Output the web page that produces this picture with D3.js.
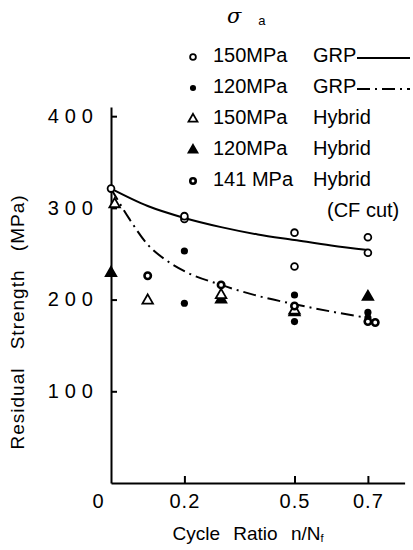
<!DOCTYPE html>
<html>
<head>
<meta charset="utf-8">
<script src="https://cdn.jsdelivr.net/npm/d3@7"></script>
<style>
  body { margin: 0; background: #fff; }
  text { font-family: "Liberation Sans", Arial, sans-serif; fill: #000; }
</style>
</head>
<body>
<svg id="chart"></svg>
<script>
// values (x = cycle ratio n/Nf, y = residual strength MPa)
const grp150 = [[0, 321], [0.2, 288], [0.2, 291], [0.5, 273], [0.5, 236], [0.7, 268], [0.7, 251]]
const grp120 = [[0.2, 253], [0.2, 196], [0.5, 205], [0.5, 176], [0.7, 186], [0.7, 180]]
const hybrid150 = [[0.01, 304], [0.1, 199], [0.3, 205], [0.5, 188]]
const hybrid120 = [[0, 229], [0.3, 200], [0.5, 186], [0.7, 203]]
const hybrid141 = [[0.1, 226], [0.3, 216], [0.5, 193], [0.7, 176], [0.72, 175]]

const curveGrp150 = [[0, 321], [0.1, 302], [0.2, 289], [0.3, 279], [0.4, 271], [0.5, 265], [0.6, 259], [0.7, 254]]
const curveGrp120 = [[0, 321], [0.05, 288], [0.1, 260], [0.15, 243], [0.2, 231], [0.3, 216], [0.4, 204], [0.5, 195], [0.6, 187], [0.7, 180]]

const xTicks = [0, 0.2, 0.5, 0.7]
const yTicks = [100, 200, 300, 400]

const legendRows = [
    {label: "150MPa", kind: "GRP", mark: "open", line: "solid"},
    {label: "120MPa", kind: "GRP", mark: "dot", line: "dashdot"},
    {label: "150MPa", kind: "Hybrid", mark: "tri", line: null},
    {label: "120MPa", kind: "Hybrid", mark: "trifill", line: null},
    {label: "141 MPa", kind: "Hybrid", mark: "ring", line: null}
]

const width = 413, height = 550
const svg = d3.select("#chart").attr("width", width).attr("height", height)

const x = d3.scaleLinear().domain([0, 0.8]).range([111, 404.6])
const y = d3.scaleLinear().domain([0, 410]).range([483, 107])

// axes
const xAxis = d3.axisBottom(x).tickValues(xTicks).tickSizeInner(-7).tickSizeOuter(0).tickPadding(11)
    .tickFormat(d => d === 0 ? "0" : d3.format(".1f")(d))
const yAxis = d3.axisLeft(y).tickValues(yTicks).tickSizeInner(-6).tickSizeOuter(0).tickPadding(12)

const gx = svg.append("g").attr("transform", "translate(0,483)").call(xAxis)
const gy = svg.append("g").attr("transform", "translate(111,0)").call(yAxis)

gx.selectAll("path, line").attr("stroke", "#000").attr("stroke-width", 2)
gy.selectAll("path, line").attr("stroke", "#000").attr("stroke-width", 2)
gx.selectAll("text").attr("font-size", 20).attr("letter-spacing", 1)
    .attr("font-family", "Liberation Sans, Arial, sans-serif")
gx.selectAll(".tick").filter(d => d === 0).select("text").attr("dx", -13)
gx.selectAll(".tick").filter(d => d === 0).select("line").remove()
gy.selectAll("text").attr("font-size", 20).attr("letter-spacing", 6)
    .attr("font-family", "Liberation Sans, Arial, sans-serif")

// axis titles
const xt = svg.append("text").attr("x", 248).attr("y", 540).attr("text-anchor", "middle")
    .attr("font-size", 19).attr("word-spacing", 8)
xt.append("tspan").text("Cycle Ratio n/N")
xt.append("tspan").text("f").attr("font-size", 11).attr("dy", 2)

svg.append("text").attr("transform", "translate(24,322) rotate(-90)")
    .attr("text-anchor", "middle").attr("font-size", 19)
    .attr("word-spacing", 12).attr("letter-spacing", 1)
    .text("Residual Strength (MPa)")

// fitted curves
const line = d3.line().x(d => x(d[0])).y(d => y(d[1])).curve(d3.curveMonotoneX)
svg.append("path").attr("d", line(curveGrp150)).attr("fill", "none")
    .attr("stroke", "#000").attr("stroke-width", 2)
svg.append("path").attr("d", line(curveGrp120)).attr("fill", "none")
    .attr("stroke", "#000").attr("stroke-width", 2).attr("stroke-dasharray", "13,5,2,5")

// marker drawing
function drawMark(g, kind, cx, cy, s) {
    if (kind === "open") {
        g.append("circle").attr("cx", cx).attr("cy", cy).attr("r", 3.4 * s)
            .attr("fill", "#fff").attr("stroke", "#000").attr("stroke-width", 1.8)
    } else if (kind === "dot") {
        g.append("circle").attr("cx", cx).attr("cy", cy).attr("r", 3.6 * s).attr("fill", "#000")
    } else if (kind === "ring") {
        g.append("circle").attr("cx", cx).attr("cy", cy).attr("r", 3.2 * s)
            .attr("fill", "#fff").attr("stroke", "#000").attr("stroke-width", 2.6)
    } else {
        g.append("path").attr("d", d3.symbol(d3.symbolTriangle, 48 * s * s)())
            .attr("transform", `translate(${cx},${cy})`)
            .attr("fill", kind === "trifill" ? "#000" : "#fff")
            .attr("stroke", "#000").attr("stroke-width", 1.8)
    }
}

const marks = svg.append("g")
const series = [[grp120, "dot"], [hybrid120, "trifill"], [hybrid150, "tri"], [grp150, "open"], [hybrid141, "ring"]]
series.forEach(([data, kind]) => {
    data.forEach(d => drawMark(marks, kind, x(d[0]), y(d[1]), 1))
})

// legend
const legend = svg.append("g")
const sig = legend.append("text").attr("x", 227).attr("y", 23).attr("font-size", 21)
sig.append("tspan").text("σ").attr("font-style", "italic").attr("font-family", "DejaVu Serif, serif")
sig.append("tspan").text("a").attr("font-size", 13).attr("dx", 17).attr("dy", 2)

legendRows.forEach((r, i) => {
    const base = 62 + i * 31
    drawMark(legend, r.mark, 193, base - 5, 0.85)
    legend.append("text").attr("x", 213).attr("y", base).attr("font-size", 20).text(r.label)
    legend.append("text").attr("x", 313).attr("y", base).attr("font-size", 20).text(r.kind)
    if (r.line) {
        legend.append("line").attr("x1", 357).attr("x2", 410).attr("y1", base - 4).attr("y2", base - 4)
            .attr("stroke", "#000").attr("stroke-width", 2)
            .attr("stroke-dasharray", r.line === "dashdot" ? "13,5,2,5" : null)
    }
})
legend.append("text").attr("x", 327).attr("y", 62 + 5 * 31).attr("font-size", 20).text("(CF cut)")
</script>
</body>
</html>
